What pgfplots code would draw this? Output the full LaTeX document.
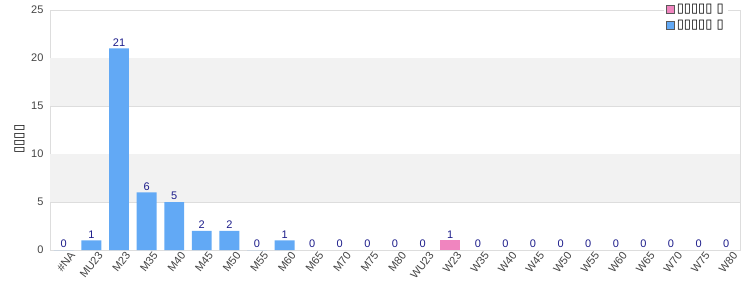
\documentclass[border=0pt]{standalone}
\usepackage{fontspec}
\setmainfont{Liberation Sans}
\newfontfamily\boxfont{DejaVu Sans}
\usepackage{pgfplots}
\pgfplotsset{compat=1.18}
\definecolor{barblue}{HTML}{62A9F5}
\definecolor{barpink}{HTML}{F085BF}
\definecolor{lblblue}{HTML}{1C1C8A}
\definecolor{gridc}{HTML}{DDDDDD}
\definecolor{bandc}{HTML}{F2F2F2}
\definecolor{tickc}{HTML}{444444}
\begin{document}
\begin{tikzpicture}[x=1bp,y=1bp]
\useasboundingbox (0,0) rectangle (750,300);
\begin{axis}[
  at={(50bp,50bp)}, anchor=south west,
  scale only axis, width=690bp, height=240bp,
  xmin=-0.5, xmax=24.5, ymin=0, ymax=25,
  ytick={0,5,...,25},
  xtick={0,...,24},
  xticklabels={\#NA,MU23,M23,M35,M40,M45,M50,M55,M60,M65,M70,M75,M80,WU23,W23,W35,W40,W45,W50,W55,W60,W65,W70,W75,W80},
  x tick label style={rotate=52, anchor=north east, font=\fontsize{11bp}{12bp}\selectfont, text=tickc, inner sep=0pt, yshift=-5bp, xshift=3bp},
  y tick label style={font=\fontsize{11bp}{12bp}\selectfont, text=tickc, xshift=-3bp},
  /pgf/number format/assume math mode=true,
  ymajorgrids, grid style={gridc, line width=0.6pt},
  major tick length=0pt,
  axis line style={draw=gridc, line width=0.8pt},
  ylabel={\boxfont ▯▯▯▯},
  ylabel style={font=\fontsize{13bp}{14bp}\selectfont, text=black, at={(ticklabel cs:0.5)}, xshift=-9bp},
  ybar, bar width=0.72, bar shift=0pt,
  legend style={at={(rel axis cs:1,1)}, anchor=north east, xshift=-12bp, yshift=10bp,
    draw=none, fill=white, font=\fontsize{13bp}{13bp}\selectfont, row sep=2.5bp, inner sep=2pt,
    legend cell align=left},
  legend image code/.code={\draw[#1, draw=gray!70!black, line width=0.5pt] (1bp,-4bp) rectangle (9bp,4bp);},
]
\fill[bandc] (rel axis cs:0,0.2) rectangle (rel axis cs:1,0.4);
\fill[bandc] (rel axis cs:0,0.6) rectangle (rel axis cs:1,0.8);
\addplot[fill=barpink, draw=none] coordinates {(14,1)};
\addlegendentry{\boxfont ▯▯▯▯▯ ▯}
\addplot[fill=barblue, draw=none] coordinates {(0,0) (1,1) (2,21) (3,6) (4,5) (5,2) (6,2) (7,0) (8,1)};
\addlegendentry{\boxfont ▯▯▯▯▯ ▯}
\addplot[draw=none, fill=none, forget plot,
  nodes near coords, nodes near coords style={font=\fontsize{11bp}{12bp}\selectfont, text=lblblue, inner sep=2pt}]
coordinates {(0,0) (1,1) (2,21) (3,6) (4,5) (5,2) (6,2) (7,0) (8,1) (9,0) (10,0) (11,0) (12,0) (13,0) (14,1) (15,0) (16,0) (17,0) (18,0) (19,0) (20,0) (21,0) (22,0) (23,0) (24,0)};
\end{axis}
\end{tikzpicture}
\end{document}
